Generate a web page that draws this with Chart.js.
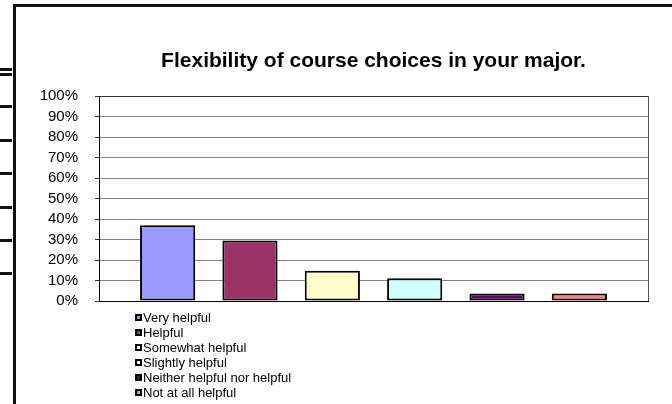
<!DOCTYPE html>
<html>
<head>
<meta charset="utf-8">
<script src="https://cdn.jsdelivr.net/npm/chart.js@4.4.1/dist/chart.umd.min.js"></script>
<style>
  html, body { margin: 0; padding: 0; background: #fff; }
  body { width: 672px; height: 404px; position: relative; overflow: hidden; }
  #c { position: absolute; left: 0; top: 0; }
  .deco { position: absolute; background: #111; }
</style>
</head>
<body>
<canvas id="c" width="672" height="404"></canvas>
<!-- frame and stray lines of the original screenshot (decoration only) -->
<div class="deco" style="left:13px;top:4px;width:659px;height:3px;"></div>
<div class="deco" style="left:13px;top:4px;width:3px;height:400px;"></div>
<div class="deco" style="left:0;top:68px;width:12px;height:2.5px;"></div>
<div class="deco" style="left:0;top:73px;width:12px;height:2.5px;"></div>
<div class="deco" style="left:0;top:105px;width:12px;height:3px;"></div>
<div class="deco" style="left:0;top:139px;width:12px;height:3px;"></div>
<div class="deco" style="left:0;top:172px;width:12px;height:3px;"></div>
<div class="deco" style="left:0;top:206px;width:12px;height:3px;"></div>
<div class="deco" style="left:0;top:239px;width:12px;height:3px;"></div>
<div class="deco" style="left:0;top:272px;width:12px;height:3px;"></div>
<script>
// ---- data ----
const titleText = 'Flexibility of course choices in your major.';
const categories = ['Very helpful', 'Helpful', 'Somewhat helpful', 'Slightly helpful', 'Neither helpful nor helpful', 'Not at all helpful'];
const values = [37.0, 29.6, 14.8, 11.1, 3.7, 3.7];
const colors = ['#9999FF', '#993366', '#FFFFCC', '#CCFFFF', '#660066', '#FF8080'];
const yTickLabels = ['0%', '10%', '20%', '30%', '40%', '50%', '60%', '70%', '80%', '90%', '100%'];

const FONT = '"Liberation Sans", Arial, sans-serif';

const datasets = categories.map((c, i) => ({
  label: c,
  data: [values[i]],
  backgroundColor: colors[i],
  borderColor: '#000',
  borderWidth: 2,
  borderSkipped: false,
  categoryPercentage: 0.9,
  barPercentage: 0.67
}));

const frameRight = {
  id: 'frameRight',
  beforeDatasetsDraw(chart) {
    const { ctx, chartArea: a } = chart;
    ctx.save();
    ctx.strokeStyle = '#555';
    ctx.lineWidth = 1;
    ctx.beginPath();
    ctx.moveTo(a.right + 0.5, a.top);
    ctx.lineTo(a.right + 0.5, a.bottom);
    ctx.stroke();
    ctx.restore();
  }
};

const boxLegend = {
  id: 'boxLegend',
  afterDraw(chart, args, opts) {
    const { ctx } = chart;
    ctx.save();
    ctx.font = opts.font;
    ctx.textBaseline = 'middle';
    ctx.textAlign = 'left';
    chart.data.datasets.forEach((ds, i) => {
      const cy = opts.top + i * opts.lineHeight;
      const bx = opts.left, by = Math.round(cy - opts.box / 2);
      ctx.fillStyle = ds.backgroundColor;
      ctx.fillRect(bx, by, opts.box, opts.box);
      ctx.strokeStyle = '#000';
      ctx.lineWidth = 2;
      ctx.strokeRect(bx + 1, by + 1, opts.box - 2, opts.box - 2);
      ctx.fillStyle = '#000';
      ctx.fillText(ds.label, bx + opts.box + opts.gap, cy + 1);
    });
    ctx.restore();
  }
};

new Chart(document.getElementById('c'), {
  type: 'bar',
  data: { labels: [''], datasets },
  options: {
    responsive: false,
    animation: false,
    devicePixelRatio: 1,
    layout: { padding: { left: 0, right: 24, top: 0, bottom: 103 } },
    plugins: {
      legend: { display: false },
      tooltip: { enabled: false },
      title: {
        display: true,
        text: titleText,
        fullSize: false,
        color: '#000',
        font: { family: FONT, size: 21, weight: 'bold' },
        padding: { top: 49, bottom: 22 }
      },
      boxLegend: { left: 135, top: 317.5, lineHeight: 15, box: 7, gap: 1, font: '13px ' + FONT }
    },
    scales: {
      x: {
        grid: { display: false, drawTicks: false },
        ticks: { display: false },
        border: { display: true, color: '#000', width: 1 },
        afterFit(s) { s.height = 0; }
      },
      y: {
        min: 0,
        max: 100,
        ticks: {
          stepSize: 10,
          autoSkip: false,
          color: '#000',
          padding: 17,
          font: { family: FONT, size: 15 },
          callback: (v, i) => yTickLabels[i]
        },
        grid: {
          color: (c) => (c.index === 10 ? '#333' : '#808080'),
          tickColor: '#333',
          tickLength: 4,
          lineWidth: 1
        },
        border: { display: true, color: '#000', width: 1 },
        afterFit(s) { s.width = 99; }
      }
    }
  },
  plugins: [frameRight, boxLegend]
});
</script>
</body>
</html>
